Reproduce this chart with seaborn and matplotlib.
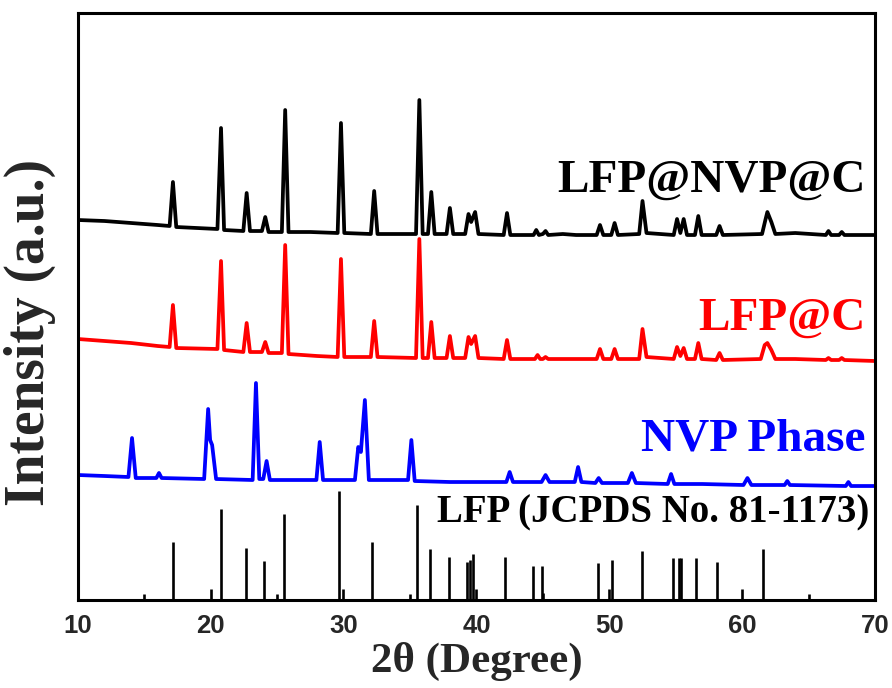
import matplotlib
matplotlib.use("Agg")
import matplotlib.pyplot as plt
import seaborn as sns
import pandas as pd
from matplotlib import font_manager

# ---------------- data ----------------
# LFP@NVP@C (black) trace vertices: 2theta, intensity (offset included)
blk_x = [10.0, 12.0, 14.0, 16.0, 16.9, 17.15, 17.4, 20.5, 20.77, 21.0,
         22.45, 22.7, 22.95, 23.85, 24.1, 24.35, 25.35, 25.6, 25.85, 27.5,
         29.55, 29.8, 30.05, 32.05, 32.3, 32.55, 35.45, 35.7, 35.95, 36.35,
         36.6, 36.85, 37.75, 38.0, 38.25, 39.15, 39.4, 39.6, 39.9, 40.15,
         42.05, 42.3, 42.55, 44.3, 44.5, 44.7, 45.0, 45.2, 45.4, 46.5,
         47.5, 49.05, 49.3, 49.55, 50.15, 50.4, 50.65, 52.25, 52.5, 52.8,
         54.85, 55.1, 55.35, 55.6, 55.85, 56.45, 56.7, 56.95, 58.05, 58.3,
         58.55, 61.5, 61.75, 61.9, 62.2, 62.5, 64.0, 66.3, 66.5, 66.7,
         67.3, 67.5, 67.7, 70.0]
blk_y = [380, 379, 377, 375, 374, 418, 373, 371, 472, 370,
         369, 407, 369, 369, 383, 368, 368, 490, 368, 368,
         367, 477, 367, 366, 409, 366, 366, 500, 366, 366,
         408, 366, 366, 392, 366, 366, 386, 378, 388, 366,
         365, 387, 365, 365, 370, 365, 366, 369, 365, 366,
         365, 365, 375, 365, 365, 377, 365, 366, 399, 367,
         365, 381, 367, 381, 365, 365, 384, 365, 365, 374,
         365, 366, 380, 388, 378, 366, 367, 365, 369, 365,
         365, 368, 365, 365]

# LFP@C (red) trace vertices
red_x = [10.0, 12.0, 14.0, 16.0, 16.9, 17.15, 17.4, 20.5, 20.77, 21.0,
         22.45, 22.7, 22.95, 23.85, 24.1, 24.35, 25.35, 25.6, 25.85, 28.0,
         29.55, 29.8, 30.05, 32.05, 32.3, 32.55, 35.45, 35.7, 35.95, 36.35,
         36.6, 36.85, 37.75, 38.0, 38.25, 39.15, 39.4, 39.6, 39.9, 40.15,
         42.05, 42.3, 42.55, 44.4, 44.6, 44.8, 45.0, 45.2, 45.4, 47.0,
         49.05, 49.3, 49.55, 50.15, 50.4, 50.65, 52.25, 52.5, 52.8, 54.85,
         55.1, 55.35, 55.6, 55.85, 56.45, 56.7, 56.95, 58.05, 58.3, 58.55,
         61.4, 61.7, 61.9, 62.2, 62.5, 64.0, 66.3, 66.5, 66.7, 67.3,
         67.5, 67.7, 70.0]
red_y = [261, 259, 257, 254, 253, 295, 252, 251, 339, 250,
         248, 277, 248, 248, 258, 247, 247, 355, 246, 244,
         243, 341, 243, 243, 279, 243, 242, 361, 242, 242,
         278, 242, 242, 264, 242, 242, 263, 256, 264, 242,
         241, 260, 241, 241, 245, 241, 241, 243, 241, 241,
         241, 251, 241, 241, 251, 241, 241, 271, 243, 241,
         253, 244, 252, 241, 241, 257, 241, 240, 247, 240,
         241, 255, 257, 250, 241, 241, 240, 242, 240, 240,
         242, 240, 239]

# NVP phase (blue) trace vertices
blu_x = [10.0, 12.0, 13.8, 14.07, 14.35, 15.9, 16.1, 16.3, 19.5, 19.8,
         19.95, 20.1, 20.4, 23.15, 23.4, 23.65, 23.95, 24.2, 24.45, 27.95,
         28.2, 28.45, 30.85, 31.1, 31.3, 31.6, 31.9, 34.85, 35.1, 35.35,
         38.0, 42.25, 42.5, 42.75, 44.9, 45.2, 45.5, 47.4, 47.65, 47.9,
         48.95, 49.2, 49.45, 51.4, 51.7, 52.0, 54.4, 54.65, 54.9, 57.0,
         60.1, 60.4, 60.7, 63.2, 63.4, 63.6, 67.8, 68.0, 68.2, 70.0]
blu_y = [125, 124, 123, 162, 122, 122, 127, 122, 121, 191,
         160, 155, 121, 120, 217, 121, 121, 139, 120, 120,
         158, 120, 120, 153, 148, 200, 120, 120, 160, 119,
         118, 118, 128, 118, 118, 125, 118, 118, 133, 118,
         117, 122, 117, 117, 127, 117, 116, 126, 116, 116,
         115, 122, 115, 115, 119, 115, 114, 118, 114, 114]

# LFP reference (JCPDS No. 81-1173) sticks
ref_pos = [14.97, 17.15, 20.0, 20.77, 22.65, 24.0, 25.0, 25.5, 29.65, 29.95,
           32.1, 35.0, 35.5, 36.5, 37.9, 39.3, 39.5, 39.75, 40.0, 42.15,
           44.25, 44.9, 45.0, 49.15, 50.0, 50.2, 52.45, 54.8, 55.25, 55.4,
           56.5, 58.1, 60.0, 61.6, 65.05]
ref_int = [6, 58, 11, 91, 52, 39, 6, 86, 109, 11,
           58, 6, 95, 51, 43, 38, 40, 46, 11, 43,
           34, 34, 7, 37, 11, 40, 49, 42, 42, 42,
           42, 38, 11, 51, 6]

series_names = ["LFP@NVP@C", "LFP@C", "NVP Phase"]
series_colors = ["#000000", "#ff0000", "#0000ff"]
ref_label = "LFP (JCPDS No. 81-1173)"
x_ticks = [10, 20, 30, 40, 50, 60, 70]

# ---------------- fonts ----------------
sns.set_theme(style="white")
avail = {f.name for f in font_manager.fontManager.ttflist}
serif = "Liberation Serif" if "Liberation Serif" in avail else "DejaVu Serif"
sans = "Liberation Sans" if "Liberation Sans" in avail else "DejaVu Sans"
plt.rcParams["font.family"] = [serif, "DejaVu Serif"]

# ---------------- figure ----------------
fig = plt.figure(figsize=(8.92, 6.88), dpi=100)
ax = fig.add_axes([0.0874, 0.1279, 0.8935, 0.8532])

frames = []
for name, xs, ys in zip(series_names, [blk_x, red_x, blu_x], [blk_y, red_y, blu_y]):
    frames.append(pd.DataFrame({"theta": xs, "I": ys, "sample": name}))
df = pd.concat(frames, ignore_index=True)

sns.lineplot(data=df, x="theta", y="I", hue="sample", units="sample",
             estimator=None, sort=False, palette=dict(zip(series_names, series_colors)),
             linewidth=2.7, legend=False, ax=ax)

ax.vlines(ref_pos, 0, ref_int, colors="black", linewidth=1.9)

ax.set_xlim(10, 70)
ax.set_ylim(0, 587)
ax.set_xticks(x_ticks)
ax.set_xticklabels([str(t) for t in x_ticks], fontfamily=sans, fontweight="bold", fontsize=18.5)
ax.set_yticks([])
ax.tick_params(axis="x", length=0, pad=10)
for s in ax.spines.values():
    s.set_visible(True)
    s.set_linewidth(2.2)
    s.set_color("black")

ax.set_xlabel("2θ (Degree)", fontsize=31, fontweight="bold", labelpad=3)
ax.set_ylabel("Intensity (a.u.)", fontsize=40, fontweight="bold")
ax.yaxis.set_label_coords(-0.027, 0.455)

ax.text(69.3, 408, series_names[0], color=series_colors[0], fontsize=34,
        fontweight="bold", ha="right", va="baseline")
ax.text(69.3, 270, series_names[1], color=series_colors[1], fontsize=34,
        fontweight="bold", ha="right", va="baseline")
ax.text(69.3, 150, series_names[2], color=series_colors[2], fontsize=34,
        fontweight="bold", ha="right", va="baseline")
ax.text(69.6, 78, ref_label, color="black", fontsize=28,
        fontweight="bold", ha="right", va="baseline")

fig.savefig("out.png", dpi=100)
